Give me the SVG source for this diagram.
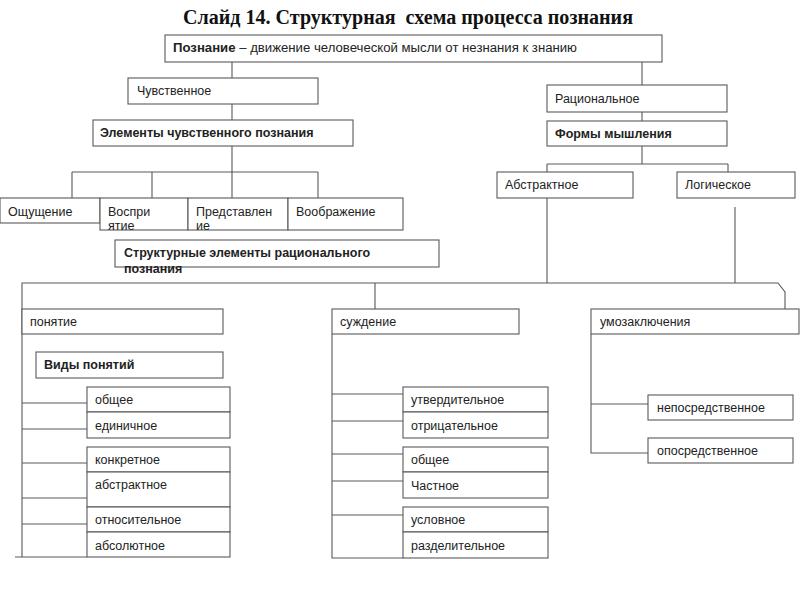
<svg xmlns="http://www.w3.org/2000/svg" width="800" height="600" viewBox="0 0 800 600">
<style>
.bx{fill:#fff;stroke:#5a5a5a;stroke-width:1.1}
.ln{fill:none;stroke:#5a5a5a;stroke-width:1.1}
.t{font-family:"Liberation Sans",Arial,sans-serif;font-size:12.5px;fill:#222}
.b{font-weight:bold}
.ttl{font-family:"Liberation Serif","Times New Roman",serif;font-size:20px;font-weight:bold;fill:#111;white-space:pre}
</style>
<rect width="800" height="600" fill="#fff"/>
<text class="ttl" x="408" y="24" text-anchor="middle" textLength="450" lengthAdjust="spacingAndGlyphs" xml:space="preserve">Слайд 14. Структурная  схема процесса познания</text>
<g id="connectors">
<path class="ln" d="M232,62V78M232,104V120M232,146V198M72,172H318M72,172V198M152,172V198M318,172V198"/>
<path class="ln" d="M642,62V85M642,112V121M642,146V164M547,164H728M547,164V172M728,164V172"/>
<path class="ln" d="M547,198V283M735,207V283"/>
<path class="ln" d="M22,557V283H778L785,292V309M375,283V309"/>
<path class="ln" d="M22,403H87M22,429H87M22,463H87M22,498H87M22,524H87M15,557H87"/>
<path class="ln" d="M332,334V558H403M332,394H403M332,421H403M332,454H403M332,481H403M332,515H403"/>
<path class="ln" d="M591,334V453H648M591,404H648"/>
</g>
<g id="poznanie"><rect class="bx" x="165" y="35" width="497" height="27"/><text class="t" x="173" y="52" textLength="404" lengthAdjust="spacingAndGlyphs"><tspan class="b">Познание</tspan> – движение человеческой мысли от незнания к знанию</text></g>
<g id="chuvstvennoe"><rect class="bx" x="128" y="78" width="190" height="26"/><text class="t" x="137" y="95">Чувственное</text></g>
<g id="elementy"><rect class="bx" x="93" y="120" width="260" height="26"/><text class="t b" x="100" y="137">Элементы чувственного познания</text></g>
<g id="oshchushchenie"><rect class="bx" x="0" y="198" width="100" height="25"/><text class="t" x="8" y="216">Ощущение</text></g>
<g id="vospriyatie"><rect class="bx" x="100" y="198" width="88" height="32"/><text class="t" x="108" y="216">Воспри</text><text class="t" x="108" y="230">ятие</text></g>
<g id="predstavlenie"><rect class="bx" x="188" y="198" width="100" height="32"/><text class="t" x="196" y="216">Представлен</text><text class="t" x="196" y="230">ие</text></g>
<g id="voobrazhenie"><rect class="bx" x="288" y="198" width="115" height="32"/><text class="t" x="296" y="216">Воображение</text></g>
<g id="strukturnye"><rect class="bx" x="115" y="240" width="324" height="27"/><text class="t b" x="124" y="257">Структурные элементы рационального</text><text class="t b" x="124" y="273">познания</text></g>
<g id="ratsionalnoe"><rect class="bx" x="547" y="85" width="180" height="27"/><text class="t" x="555" y="103">Рациональное</text></g>
<g id="formy"><rect class="bx" x="547" y="121" width="180" height="25"/><text class="t b" x="555" y="138">Формы мышления</text></g>
<g id="abstraktnoe-m"><rect class="bx" x="497" y="172" width="136" height="26"/><text class="t" x="505" y="189">Абстрактное</text></g>
<g id="logicheskoe"><rect class="bx" x="677" y="172" width="118" height="26"/><text class="t" x="685" y="189">Логическое</text></g>
<g id="ponyatie"><rect class="bx" x="22" y="309" width="201" height="25"/><text class="t" x="30" y="326">понятие</text></g>
<g id="vidy"><rect class="bx" x="36" y="352" width="187" height="26"/><text class="t b" x="44" y="369">Виды понятий</text></g>
<g id="obshchee1"><rect class="bx" x="87" y="387" width="143" height="25"/><text class="t" x="95" y="404">общее</text></g>
<g id="edinichnoe"><rect class="bx" x="87" y="412" width="143" height="26"/><text class="t" x="95" y="430">единичное</text></g>
<g id="konkretnoe"><rect class="bx" x="87" y="447" width="143" height="25"/><text class="t" x="95" y="464">конкретное</text></g>
<g id="abstraktnoe-p"><rect class="bx" x="87" y="472" width="143" height="35"/><text class="t" x="95" y="489">абстрактное</text></g>
<g id="otnositelnoe"><rect class="bx" x="87" y="507" width="143" height="25"/><text class="t" x="95" y="524">относительное</text></g>
<g id="absolyutnoe"><rect class="bx" x="87" y="532" width="143" height="25"/><text class="t" x="95" y="550">абсолютное</text></g>
<g id="suzhdenie"><rect class="bx" x="332" y="309" width="187" height="25"/><text class="t" x="340" y="326">суждение</text></g>
<g id="utverditelnoe"><rect class="bx" x="403" y="387" width="145" height="25"/><text class="t" x="411" y="404">утвердительное</text></g>
<g id="otritsatelnoe"><rect class="bx" x="403" y="412" width="145" height="26"/><text class="t" x="411" y="430">отрицательное</text></g>
<g id="obshchee2"><rect class="bx" x="403" y="447" width="145" height="25"/><text class="t" x="411" y="464">общее</text></g>
<g id="chastnoe"><rect class="bx" x="403" y="472" width="145" height="26"/><text class="t" x="411" y="490">Частное</text></g>
<g id="uslovnoe"><rect class="bx" x="403" y="507" width="145" height="25"/><text class="t" x="411" y="524">условное</text></g>
<g id="razdelitelnoe"><rect class="bx" x="403" y="532" width="145" height="26"/><text class="t" x="411" y="550">разделительное</text></g>
<g id="umozaklyucheniya"><rect class="bx" x="591" y="309" width="208" height="25"/><text class="t" x="600" y="326">умозаключения</text></g>
<g id="neposredstvennoe"><rect class="bx" x="648" y="395" width="145" height="25"/><text class="t" x="657" y="412">непосредственное</text></g>
<g id="oposredstvennoe"><rect class="bx" x="648" y="438" width="145" height="25"/><text class="t" x="657" y="455">опосредственное</text></g>
</svg>
